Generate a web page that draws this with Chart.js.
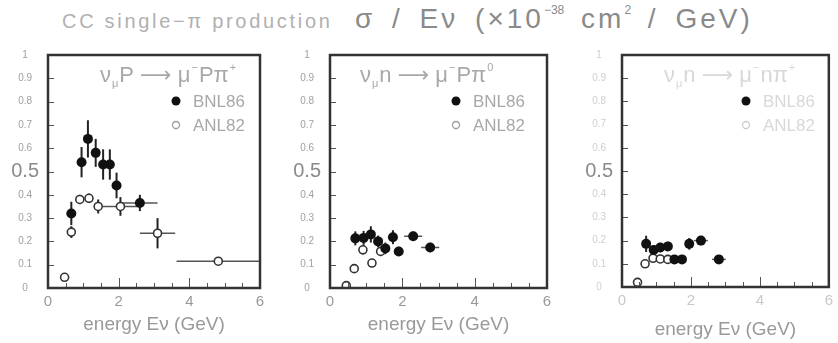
<!DOCTYPE html>
<html>
<head>
<meta charset="utf-8">
<script src="https://cdn.jsdelivr.net/npm/chart.js@4/dist/chart.umd.min.js"></script>
<style>
  body { margin: 0; background: #fff; width: 838px; height: 343px; position: relative; overflow: hidden;
         font-family: 'Liberation Sans', 'DejaVu Sans', sans-serif; }
  .panel { position: absolute; top: 40px; height: 303px; }
  #title1 { position: absolute; left: 62px; top: 10px; font-size: 20px; letter-spacing: 2.7px; color: #b0b0b0; white-space: nowrap; }
  #title2 { position: absolute; left: 355px; top: 3px; font-size: 28px; letter-spacing: 3px; word-spacing: 6px; color: #8a8a8a; white-space: nowrap; }
  #title2 sup { font-size: 12px; vertical-align: 14px; letter-spacing: 0; }
</style>
</head>
<body>
<div id="title1">CC single−π production</div>
<div id="title2">σ / Eν (×10<sup>−38</sup> cm<sup>2</sup> / GeV)</div>
<div class="panel" style="left:0;width:280px"><canvas id="c1"></canvas></div>
<div class="panel" style="left:280px;width:280px"><canvas id="c2"></canvas></div>
<div class="panel" style="left:560px;width:278px"><canvas id="c3"></canvas></div>
<script>
// ---- panel 1 : nu_mu p -> mu- p pi+
const p1BnlX = [0.66, 0.95, 1.13, 1.35, 1.56, 1.75, 1.94, 2.6]
const p1BnlY = [0.32, 0.54, 0.64, 0.58, 0.53, 0.53, 0.44, 0.365]
const p1BnlYErr = [0.05, 0.065, 0.08, 0.06, 0.065, 0.065, 0.055, 0.035]
const p1BnlXErr = [0, 0, 0, 0, 0, 0, 0, 0.5]
const p1AnlX = [0.47, 0.66, 0.9, 1.16, 1.42, 2.05, 3.1, 4.82]
const p1AnlY = [0.046, 0.24, 0.38, 0.385, 0.35, 0.35, 0.235, 0.115]
const p1AnlYErr = [0.01, 0.025, 0.02, 0.02, 0.03, 0.04, 0.065, 0.015]
const p1AnlXErr = [0, 0, 0, 0, 0.1, 0.5, 0.5, 1.18]

// ---- panel 2 : nu_mu n -> mu- p pi0
const p2BnlX = [0.7, 0.93, 1.13, 1.33, 1.53, 1.74, 1.9, 2.3, 2.77]
const p2BnlY = [0.213, 0.215, 0.23, 0.2, 0.17, 0.218, 0.157, 0.222, 0.174]
const p2BnlYErr = [0.03, 0.03, 0.035, 0.025, 0.025, 0.03, 0.02, 0.02, 0.02]
const p2BnlXErr = [0.1, 0.1, 0.1, 0.1, 0.1, 0.1, 0.1, 0.25, 0.25]
const p2AnlX = [0.45, 0.67, 0.91, 1.16, 1.4]
const p2AnlY = [0.01, 0.083, 0.164, 0.107, 0.157]
const p2AnlYErr = [0, 0.015, 0.02, 0.015, 0.02]
const p2AnlXErr = [0, 0, 0, 0, 0]

// ---- panel 3 : nu_mu n -> mu- n pi+
const p3BnlX = [0.7, 0.92, 1.11, 1.33, 1.52, 1.74, 1.95, 2.29, 2.81]
const p3BnlY = [0.186, 0.16, 0.17, 0.175, 0.119, 0.119, 0.186, 0.2, 0.119]
const p3BnlYErr = [0.035, 0.02, 0.02, 0.02, 0.01, 0.01, 0.025, 0.02, 0.01]
const p3BnlXErr = [0, 0, 0, 0, 0.1, 0.1, 0.05, 0.2, 0.2]
const p3AnlX = [0.45, 0.67, 0.9, 1.11, 1.33]
const p3AnlY = [0.02, 0.1, 0.124, 0.121, 0.119]
const p3AnlYErr = [0, 0.01, 0.01, 0.01, 0.01]
const p3AnlXErr = [0, 0, 0, 0, 0]

const seriesNames = ['BNL86', 'ANL82']
const xTickValues = [0, 2, 4, 6]
const yTickValues = [0, 0.1, 0.2, 0.3, 0.4, 0.5, 0.6, 0.7, 0.8, 0.9, 1]
const yTickLabels = ['0', '0.1', '0.2', '0.3', '0.4', '0.5', '0.6', '0.7', '0.8', '0.9', '1']
const xAxisTitle = 'energy Eν (GeV)'
// reaction labels as [text, 'b'|'sub'|'sup'] pieces
const reaction1 = [['ν', 'b'], ['μ', 'sub'], ['P ⟶ μ', 'b'], ['−', 'sup'], ['Pπ', 'b'], ['+', 'sup']]
const reaction2 = [['ν', 'b'], ['μ', 'sub'], ['n ⟶ μ', 'b'], ['−', 'sup'], ['Pπ', 'b'], ['0', 'sup']]
const reaction3 = [['ν', 'b'], ['μ', 'sub'], ['n ⟶ μ', 'b'], ['−', 'sup'], ['nπ', 'b'], ['+', 'sup']]

const FONT = "'Liberation Sans', 'DejaVu Sans', sans-serif"
const pts = (xs, ys) => xs.map((x, i) => ({ x, y: ys[i] }))
const isHalf = (c) => c.tick && Math.abs(c.tick.value - 0.5) < 1e-6

// error bars, frame, inside ticks, reaction label and legend
const hepPlugin = {
  id: 'hep',
  beforeDatasetsDraw(chart) {
    const { ctx, scales: { x, y } } = chart
    ctx.save()
    chart.data.datasets.forEach((ds) => {
      ds.data.forEach((p, i) => {
        const px = x.getPixelForValue(p.x)
        const py = y.getPixelForValue(p.y)
        const ye = ds.yErr[i]
        if (ye > 0) {
          ctx.strokeStyle = '#222'
          ctx.lineWidth = 2
          ctx.beginPath()
          ctx.moveTo(px, y.getPixelForValue(p.y - ye))
          ctx.lineTo(px, y.getPixelForValue(p.y + ye))
          ctx.stroke()
        }
        const xe = ds.xErr[i]
        if (xe > 0) {
          ctx.strokeStyle = '#555'
          ctx.lineWidth = 1.5
          ctx.beginPath()
          ctx.moveTo(x.getPixelForValue(p.x - xe), py)
          ctx.lineTo(x.getPixelForValue(Math.min(6, p.x + xe)), py)
          ctx.stroke()
        }
      })
    })
    ctx.restore()
  },
  afterDraw(chart, args, opts) {
    const { ctx, chartArea: a, scales: { x, y } } = chart
    ctx.save()
    // inside ticks
    ctx.strokeStyle = '#555'
    ctx.lineWidth = 1
    yTickValues.slice(1, -1).forEach((v) => {
      const py = Math.round(y.getPixelForValue(v)) + 0.5
      ctx.beginPath()
      ctx.moveTo(a.left, py)
      ctx.lineTo(a.left + 6, py)
      ctx.stroke()
    })
    for (let v = 0.5; v < 6; v += 0.5) {
      const px = Math.round(x.getPixelForValue(v)) + 0.5
      const len = v % 2 === 0 ? 10 : 5
      ctx.beginPath()
      ctx.moveTo(px, a.bottom)
      ctx.lineTo(px, a.bottom - len)
      ctx.stroke()
    }
    // frame
    ctx.strokeStyle = '#333'
    ctx.lineWidth = 2.5
    ctx.strokeRect(a.left, a.top, a.right - a.left, a.bottom - a.top)

    // reaction label
    ctx.fillStyle = opts.textColor
    ctx.textBaseline = 'alphabetic'
    let cx = a.left + opts.reactionX
    const by = a.top + 27
    opts.reaction.forEach(([t, k]) => {
      const size = k === 'b' ? 22 : 11
      ctx.font = size + 'px ' + FONT
      const dy = k === 'sub' ? 5 : k === 'sup' ? -11 : 0
      ctx.fillText(t, cx, by + dy)
      cx += ctx.measureText(t).width + 1
    })

    // legend
    const lx = a.left + opts.legendX
    chart.data.datasets.forEach((ds, i) => {
      const ly = a.top + 46 + i * 24
      ctx.beginPath()
      ctx.arc(lx, ly, i === 0 ? 4.5 : 3.5, 0, Math.PI * 2)
      if (i === 0) {
        ctx.fillStyle = '#111'
        ctx.fill()
      } else {
        ctx.strokeStyle = opts.openColor
        ctx.lineWidth = 1.3
        ctx.stroke()
      }
      ctx.fillStyle = opts.textColor
      ctx.font = '17px ' + FONT
      ctx.textBaseline = 'middle'
      ctx.fillText(ds.label, lx + 17, ly + 1)
      ctx.textBaseline = 'alphabetic'
    })
    ctx.restore()
  },
}

function makePanel(id, cfg) {
  return new Chart(document.getElementById(id), {
    type: 'scatter',
    data: {
      datasets: [
        {
          label: seriesNames[0],
          data: pts(cfg.bnlX, cfg.bnlY),
          yErr: cfg.bnlYErr,
          xErr: cfg.bnlXErr,
          backgroundColor: '#111',
          borderColor: '#111',
          pointRadius: 5,
          borderWidth: 0,
        },
        {
          label: seriesNames[1],
          data: pts(cfg.anlX, cfg.anlY),
          yErr: cfg.anlYErr,
          xErr: cfg.anlXErr,
          backgroundColor: '#fff',
          borderColor: '#333',
          pointRadius: 4,
          borderWidth: 1.6,
        },
      ],
    },
    options: {
      responsive: false,
      animation: false,
      layout: { padding: { top: 13, right: cfg.padRight, left: 0, bottom: 0 } },
      scales: {
        x: {
          min: 0,
          max: 6,
          afterBuildTicks: (s) => { s.ticks = xTickValues.map((v) => ({ value: v })) },
          afterFit: (s) => { s.height = cfg.xHeight },
          grid: { display: false, drawTicks: false },
          border: { display: false },
          ticks: { padding: 5, color: cfg.xTickColor, font: { family: FONT, size: 15 } },
          title: {
            display: true,
            text: xAxisTitle,
            color: '#999',
            font: { family: FONT, size: 19 },
            padding: { top: 0, bottom: cfg.titlePad },
          },
        },
        y: {
          min: 0,
          max: 1,
          afterBuildTicks: (s) => { s.ticks = yTickValues.map((v) => ({ value: v })) },
          afterFit: (s) => { s.width = cfg.yWidth },
          grid: { display: false, drawTicks: false },
          border: { display: false },
          ticks: {
            autoSkip: false,
            padding: 9,
            crossAlign: 'center',
            callback: (v, i) => yTickLabels[i],
            color: (c) => (isHalf(c) ? '#8a8a8a' : cfg.yTickColor),
            font: (c) => (isHalf(c) ? { family: FONT, size: 20 } : { family: FONT, size: 10 }),
          },
        },
      },
      plugins: {
        legend: { display: false },
        tooltip: { enabled: false },
        hep: {
          reaction: cfg.reaction,
          reactionX: cfg.reactionX,
          legendX: cfg.legendX,
          textColor: cfg.textColor,
          openColor: cfg.openColor,
        },
      },
    },
    plugins: [hepPlugin],
  })
}

function sizeCanvas(id, w) {
  const c = document.getElementById(id)
  c.width = w
  c.height = 303
  c.style.width = w + 'px'
  c.style.height = '303px'
}
sizeCanvas('c1', 280)
sizeCanvas('c2', 280)
sizeCanvas('c3', 278)

makePanel('c1', {
  bnlX: p1BnlX, bnlY: p1BnlY, bnlYErr: p1BnlYErr, bnlXErr: p1BnlXErr,
  anlX: p1AnlX, anlY: p1AnlY, anlYErr: p1AnlYErr, anlXErr: p1AnlXErr,
  yWidth: 48, padRight: 20, xHeight: 55, titlePad: 7,
  reaction: reaction1, reactionX: 52, legendX: 128,
  textColor: '#a8a8a8', openColor: '#999', xTickColor: '#999', yTickColor: '#a0a0a0',
})
makePanel('c2', {
  bnlX: p2BnlX, bnlY: p2BnlY, bnlYErr: p2BnlYErr, bnlXErr: p2BnlXErr,
  anlX: p2AnlX, anlY: p2AnlY, anlYErr: p2AnlYErr, anlXErr: p2AnlXErr,
  yWidth: 50, padRight: 13, xHeight: 55, titlePad: 7,
  reaction: reaction2, reactionX: 30, legendX: 126,
  textColor: '#a8a8a8', openColor: '#999', xTickColor: '#999', yTickColor: '#a0a0a0',
})
makePanel('c3', {
  bnlX: p3BnlX, bnlY: p3BnlY, bnlYErr: p3BnlYErr, bnlXErr: p3BnlXErr,
  anlX: p3AnlX, anlY: p3AnlY, anlYErr: p3AnlYErr, anlXErr: p3AnlXErr,
  yWidth: 62, padRight: 5, xHeight: 56, titlePad: 2,
  reaction: reaction3, reactionX: 42, legendX: 124,
  textColor: '#d8d8d8', openColor: '#ccc', xTickColor: '#c8c8c8', yTickColor: '#cfcfcf',
})
</script>
</body>
</html>
